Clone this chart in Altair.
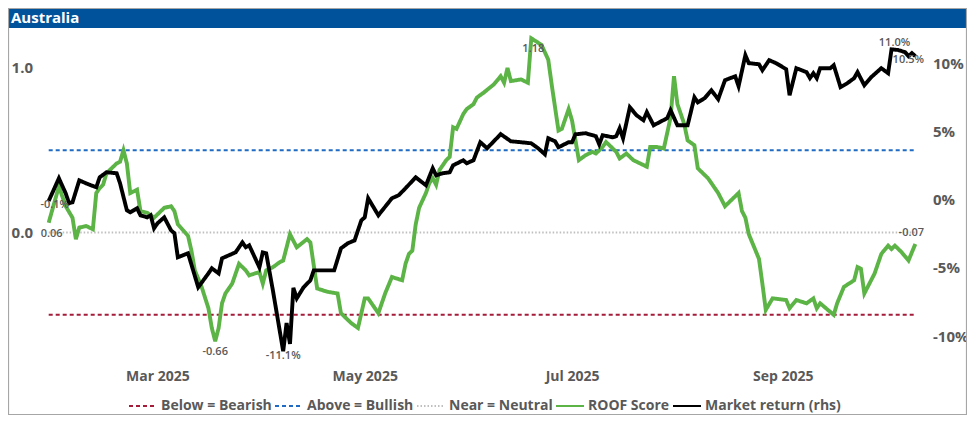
import altair as alt
import pandas as pd

# ---------------- data ----------------
roof_dates = [
    "2025-01-28", "2025-01-31", "2025-02-02", "2025-02-04", "2025-02-05", "2025-02-06", "2025-02-08",
    "2025-02-10", "2025-02-11", "2025-02-12", "2025-02-13", "2025-02-14", "2025-02-17", "2025-02-18",
    "2025-02-19", "2025-02-20", "2025-02-21", "2025-02-23", "2025-02-24", "2025-02-26", "2025-02-28",
    "2025-03-03", "2025-03-05", "2025-03-06", "2025-03-07", "2025-03-10", "2025-03-11", "2025-03-12",
    "2025-03-14", "2025-03-16", "2025-03-17", "2025-03-18", "2025-03-19", "2025-03-20", "2025-03-21",
    "2025-03-23", "2025-03-25", "2025-03-27", "2025-03-28", "2025-03-31", "2025-04-01", "2025-04-02",
    "2025-04-04", "2025-04-06", "2025-04-07", "2025-04-09", "2025-04-11", "2025-04-14", "2025-04-15",
    "2025-04-17", "2025-04-20", "2025-04-23", "2025-04-24", "2025-04-27", "2025-04-29", "2025-05-01",
    "2025-05-02", "2025-05-05", "2025-05-07", "2025-05-09", "2025-05-12", "2025-05-13", "2025-05-14",
    "2025-05-15", "2025-05-16", "2025-05-17", "2025-05-19", "2025-05-20", "2025-05-21", "2025-05-22",
    "2025-05-23", "2025-05-25", "2025-05-26", "2025-05-27", "2025-05-28", "2025-05-30", "2025-05-31",
    "2025-06-02", "2025-06-03", "2025-06-05", "2025-06-08", "2025-06-10", "2025-06-11", "2025-06-12",
    "2025-06-13", "2025-06-16", "2025-06-18", "2025-06-19", "2025-06-22", "2025-06-24", "2025-06-25",
    "2025-06-27", "2025-06-28", "2025-06-30", "2025-07-01", "2025-07-03", "2025-07-05", "2025-07-07",
    "2025-07-08", "2025-07-10", "2025-07-11", "2025-07-14", "2025-07-15", "2025-07-17", "2025-07-19",
    "2025-07-23", "2025-07-24", "2025-07-26", "2025-07-28", "2025-07-30", "2025-07-31", "2025-08-01",
    "2025-08-03", "2025-08-04", "2025-08-06", "2025-08-07", "2025-08-10", "2025-08-13", "2025-08-15",
    "2025-08-19", "2025-08-20", "2025-08-21", "2025-08-22", "2025-08-25", "2025-08-26", "2025-08-27",
    "2025-08-29", "2025-09-02", "2025-09-03", "2025-09-05", "2025-09-08", "2025-09-10", "2025-09-11",
    "2025-09-12", "2025-09-16", "2025-09-17", "2025-09-19", "2025-09-22", "2025-09-23", "2025-09-24",
    "2025-09-25", "2025-09-28", "2025-09-30", "2025-10-02", "2025-10-03", "2025-10-04", "2025-10-06",
    "2025-10-08", "2025-10-10",
]
roof_values = [
    0.06, 0.28, 0.16, 0.09, -0.04, 0.03, 0.04,
    0.02, 0.24, 0.27, 0.29, 0.36, 0.42, 0.43,
    0.50, 0.42, 0.24, 0.26, 0.13, 0.12, 0.09,
    0.15, 0.16, 0.13, 0.05, -0.02, -0.11, -0.23,
    -0.33, -0.46, -0.58, -0.66, -0.58, -0.43, -0.37,
    -0.31, -0.19, -0.23, -0.26, -0.24, -0.31, -0.23,
    -0.21, -0.18, -0.17, -0.01, -0.09, -0.04, -0.06,
    -0.34, -0.36, -0.37, -0.49, -0.55, -0.58, -0.40,
    -0.40, -0.49, -0.37, -0.27, -0.29, -0.19, -0.13,
    -0.11, 0.05, 0.15, 0.24, 0.30, 0.33, 0.29,
    0.38, 0.44, 0.46, 0.64, 0.63, 0.72, 0.75,
    0.78, 0.82, 0.85, 0.90, 0.95, 0.91, 1.00,
    0.92, 0.93, 0.91, 1.18, 1.14, 1.05, 0.90,
    0.62, 0.63, 0.75, 0.68, 0.44, 0.47, 0.49,
    0.48, 0.52, 0.55, 0.49, 0.45, 0.48, 0.44,
    0.40, 0.52, 0.52, 0.51, 0.70, 0.95, 0.78,
    0.66, 0.56, 0.53, 0.39, 0.33, 0.24, 0.16,
    0.24, 0.13, 0.09, -0.01, -0.16, -0.31, -0.47,
    -0.40, -0.41, -0.46, -0.41, -0.43, -0.40, -0.46,
    -0.43, -0.50, -0.43, -0.33, -0.29, -0.21, -0.22,
    -0.37, -0.25, -0.13, -0.08, -0.10, -0.08, -0.12,
    -0.17, -0.07,
]

mkt_dates = [
    "2025-01-28", "2025-01-31", "2025-02-02", "2025-02-03", "2025-02-04", "2025-02-06", "2025-02-08",
    "2025-02-11", "2025-02-12", "2025-02-14", "2025-02-17", "2025-02-18", "2025-02-20", "2025-02-21",
    "2025-02-23", "2025-02-24", "2025-02-26", "2025-02-27", "2025-02-28", "2025-03-01", "2025-03-03",
    "2025-03-05", "2025-03-06", "2025-03-07", "2025-03-10", "2025-03-13", "2025-03-16", "2025-03-17",
    "2025-03-19", "2025-03-20", "2025-03-22", "2025-03-24", "2025-03-26", "2025-03-27", "2025-03-28",
    "2025-03-31", "2025-04-01", "2025-04-02", "2025-04-04", "2025-04-07", "2025-04-08", "2025-04-09",
    "2025-04-10", "2025-04-11", "2025-04-13", "2025-04-15", "2025-04-16", "2025-04-22", "2025-04-24",
    "2025-04-26", "2025-04-28", "2025-04-30", "2025-05-01", "2025-05-02", "2025-05-05", "2025-05-09",
    "2025-05-11", "2025-05-13", "2025-05-16", "2025-05-19", "2025-05-21", "2025-05-22", "2025-05-24",
    "2025-05-26", "2025-05-27", "2025-05-30", "2025-05-31", "2025-06-02", "2025-06-04", "2025-06-06",
    "2025-06-10", "2025-06-13", "2025-06-16", "2025-06-19", "2025-06-21", "2025-06-23", "2025-06-24",
    "2025-06-26", "2025-06-27", "2025-06-30", "2025-07-01", "2025-07-02", "2025-07-05", "2025-07-08",
    "2025-07-09", "2025-07-10", "2025-07-13", "2025-07-14", "2025-07-15", "2025-07-16", "2025-07-18",
    "2025-07-20", "2025-07-22", "2025-07-23", "2025-07-25", "2025-07-29", "2025-07-30", "2025-08-01",
    "2025-08-04", "2025-08-06", "2025-08-07", "2025-08-09", "2025-08-11", "2025-08-13", "2025-08-15",
    "2025-08-18", "2025-08-19", "2025-08-21", "2025-08-22", "2025-08-25", "2025-08-26", "2025-08-28",
    "2025-08-30", "2025-09-02", "2025-09-03", "2025-09-05", "2025-09-08", "2025-09-09", "2025-09-10",
    "2025-09-11", "2025-09-12", "2025-09-15", "2025-09-16", "2025-09-18", "2025-09-20", "2025-09-22",
    "2025-09-23", "2025-09-25", "2025-09-27", "2025-09-30", "2025-10-02", "2025-10-03", "2025-10-05",
    "2025-10-07", "2025-10-08", "2025-10-09", "2025-10-10",
]
mkt_values = [
    -0.10, 1.56, 0.46, -0.27, -0.20, 1.41, 1.19,
    0.90, 1.63, 2.00, 1.93, 1.19, -0.78, -0.93,
    -0.64, -1.15, -1.30, -1.15, -2.10, -1.74, -1.30,
    -2.25, -2.47, -4.23, -3.93, -6.42, -5.40, -5.03,
    -5.40, -4.30, -4.08, -3.86, -3.13, -3.49, -3.35,
    -4.96, -3.86, -3.93, -6.69, -11.10, -9.03, -10.57,
    -6.47, -7.23, -6.42, -5.91, -5.18, -5.18, -3.57,
    -3.20, -2.99, -1.52, -1.30, 0.10, -1.15, 0.10,
    0.32, 0.83, 1.63, 1.05, 2.29, 1.78, 1.93,
    2.00, 2.51, 2.88, 2.66, 2.88, 4.20, 3.76,
    4.79, 4.27, 4.20, 4.12, 3.76, 3.32, 4.49,
    4.27, 3.83, 4.20, 4.20, 4.78, 4.86, 4.64,
    4.05, 4.71, 4.56, 4.64, 5.22, 4.49, 6.76,
    6.17, 5.81, 6.40, 5.44, 5.96, 6.54, 5.44,
    5.44, 7.49, 7.12, 7.42, 8.00, 7.35, 8.74,
    9.03, 8.30, 10.57, 9.99, 9.91, 9.47, 10.21,
    9.99, 9.55, 7.64, 9.62, 9.33, 8.89, 9.25,
    8.89, 9.62, 9.62, 9.84, 8.23, 8.52, 8.89,
    9.33, 8.37, 8.96, 9.62, 9.25, 11.00, 10.95,
    10.79, 10.50, 10.72, 10.50,
]

ref_names = ["Below = Bearish", "Above = Bullish", "Near = Neutral"]
ref_levels = [-0.5, 0.5, 0.0]

series_names = ["Below = Bearish", "Above = Bullish", "Near = Neutral", "ROOF Score", "Market return (rhs)"]
series_colors = ["#A51C3A", "#1F6BC4", "#BFBFBF", "#5CB346", "#000000"]
series_dashes = [[4, 3], [4, 3], [1.5, 2], [1, 0], [1, 0]]

x_domain = ["2025-01-25", "2025-10-13"]
x_ticks = ["2025-03-01", "2025-05-01", "2025-07-01", "2025-09-01"]
left_ticks = [0, 1]
right_ticks = [-10, -5, 0, 5, 10]
left_domain = [-0.75, 1.2]
right_domain = [-11.45, 12.05]

chart_title = "Australia"

# ---------------- styling ----------------
FONT = "Open Sans"
GREY = "#595959"
W, H = 887, 321


def dt(s):
    y, m, d = map(int, s.split("-"))
    return alt.DateTime(year=y, month=m, date=d, utc=True)


roof_df = pd.DataFrame({"date": roof_dates, "v": roof_values, "series": "ROOF Score"})
mkt_df = pd.DataFrame({"date": mkt_dates, "v": mkt_values, "series": "Market return (rhs)"})
ref_df = pd.DataFrame({
    "series": ref_names,
    "v": ref_levels,
    "date": [roof_dates[0]] * len(ref_names),
    "date_end": [roof_dates[-1]] * len(ref_names),
})

x_enc = alt.X(
    "date:T",
    scale=alt.Scale(type="utc", domain=[dt(x_domain[0]), dt(x_domain[1])]),
    axis=alt.Axis(
        values=[dt(s) for s in x_ticks], format="%b %Y", title=None,
        labelFont=FONT, labelFontSize=14, labelFontWeight="bold", labelColor=GREY,
        ticks=False, domain=False, grid=False, labelPadding=13,
    ),
)
yl_enc = alt.Y(
    "v:Q",
    scale=alt.Scale(domain=left_domain, nice=False, zero=False),
    axis=alt.Axis(
        orient="left", values=left_ticks, format=".1f", title=None,
        labelFont=FONT, labelFontSize=15, labelFontWeight="bold", labelColor=GREY,
        ticks=False, domain=False, grid=False, labelPadding=6,
    ),
)
yr_enc = alt.Y(
    "v:Q",
    scale=alt.Scale(domain=right_domain, nice=False, zero=False),
    axis=alt.Axis(
        orient="right", values=right_ticks, labelExpr="datum.value + '%'", title=None,
        labelFont=FONT, labelFontSize=15, labelFontWeight="bold", labelColor=GREY,
        ticks=False, domain=False, grid=False, labelPadding=7,
    ),
)

legend = alt.Legend(
    title=None, orient="none", legendX=89.5, legendY=356, direction="horizontal", columns=5,
    symbolType="stroke", symbolSize=784, symbolStrokeWidth=2,
    labelFont=FONT, labelFontSize=14, labelFontWeight="bold", labelColor=GREY,
    labelOffset=3, columnPadding=-1, padding=0, labelLimit=300,
)
color_enc = alt.Color("series:N", scale=alt.Scale(domain=series_names, range=series_colors), legend=legend)
dash_enc = alt.StrokeDash("series:N", scale=alt.Scale(domain=series_names, range=series_dashes), legend=legend)

rules = alt.Chart(ref_df).mark_rule(strokeWidth=2).encode(
    x=x_enc, x2="date_end:T", y=yl_enc, color=color_enc, strokeDash=dash_enc
)
roof_line = alt.Chart(roof_df).mark_line(strokeWidth=3.9).encode(
    x=x_enc, y=yl_enc, color=color_enc, strokeDash=dash_enc
)
mkt_line = alt.Chart(mkt_df).mark_line(strokeWidth=3.9).encode(
    x=x_enc, y=yr_enc, color=color_enc, strokeDash=dash_enc
)

# data labels (first, min, max, last)
def picks(values):
    lo = min(range(len(values)), key=lambda i: values[i])
    hi = max(range(len(values)), key=lambda i: values[i])
    return [0, lo, hi, len(values) - 1]

roof_offsets = [(3, 11), (0, 11), (2, 11), (-4, -11)]
mkt_offsets = [(6, 4), (0, 5), (3, -6), (-7, 4)]

def label_layers(dates, values, fmt, offsets, y_enc):
    out = []
    for idx, (dx, dy) in zip(picks(values), offsets):
        d = pd.DataFrame({"date": [dates[idx]], "v": [values[idx]], "t": [fmt(values[idx])]})
        out.append(
            alt.Chart(d).mark_text(
                dx=dx, dy=dy, font=FONT, fontSize=11, fontWeight=600, color=GREY,
                baseline="middle", align="center"
            ).encode(x=x_enc, y=y_enc, text="t:N")
        )
    return out

roof_labels = label_layers(roof_dates, roof_values, lambda v: f"{v:.2f}", roof_offsets, yl_enc)
mkt_labels = label_layers(mkt_dates, mkt_values, lambda v: f"{v:.1f}%", mkt_offsets, yr_enc)

left_layer = alt.layer(rules, roof_line, *roof_labels)
right_layer = alt.layer(mkt_line, *mkt_labels)

deco_df = pd.DataFrame({"k": [1]})
band = alt.Chart(deco_df).mark_rect(color="#00529B").encode(
    x=alt.value(-30.5), x2=alt.value(W + 41.5), y=alt.value(-27), y2=alt.value(-7)
)
title_text = alt.Chart(deco_df).mark_text(
    text=chart_title, align="left", baseline="middle", font=FONT, fontSize=15,
    fontWeight="bold", color="white"
).encode(x=alt.value(-27.5), y=alt.value(-17))
border = alt.Chart(deco_df).mark_rect(fillOpacity=0, stroke="#A6A6A6", strokeWidth=1.2).encode(
    x=alt.value(-30), x2=alt.value(W + 41), y=alt.value(-26.5), y2=alt.value(H + 58.5)
)

chart = alt.layer(band, left_layer, right_layer, title_text, border).resolve_scale(
    y="independent"
).properties(
    width=W, height=H, autosize=alt.AutoSizeParams(type="none"),
    padding={"left": 30.5, "top": 27, "right": 41.5, "bottom": 59},
    background="white",
).configure_view(stroke=None)

chart.save("out.html", embed_options={"renderer": "svg", "actions": False})
